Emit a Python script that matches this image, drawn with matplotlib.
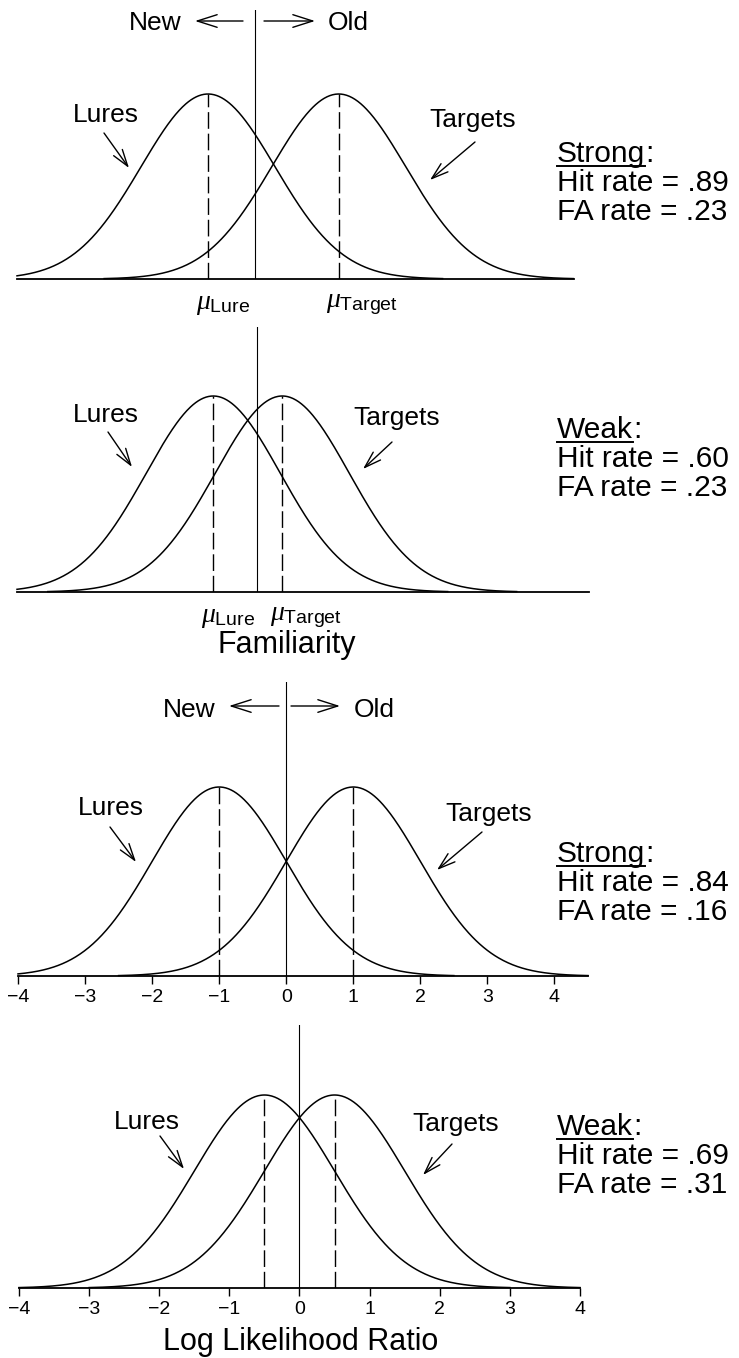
import numpy as np
import matplotlib.pyplot as plt
from matplotlib.lines import Line2D
from matplotlib.patches import FancyArrowPatch

plt.rcParams['font.family'] = ['Liberation Sans', 'DejaVu Sans']
plt.rcParams['mathtext.fontset'] = 'custom'
plt.rcParams['mathtext.rm'] = 'Liberation Sans'
plt.rcParams['mathtext.it'] = 'Liberation Serif:italic'

W, H = 739, 1358

# ---------------- data ----------------
condition = ['Strong', 'Weak', 'Strong', 'Weak']
hit_rate = ['.89', '.60', '.84', '.69']
fa_rate = ['.23', '.23', '.16', '.31']
lure_mean = [0.0, 0.0, -1.0, -0.5]
target_mean = [1.95, 1.03, 1.0, 0.5]
criterion = [0.70, 0.66, 0.0, 0.0]
sd = 1.0
llr_ticks = [-4, -3, -2, -1, 0, 1, 2, 3, 4]
x_limits = [(-2.85, 5.46), (-2.93, 5.61), (-4.0, 4.5), (-4.0, 4.0)]

# ---------------- layout (pixels, from top-left) ----------------
ax_left = [17, 17, 18, 19]
ax_right = [574, 589, 588, 580]
ax_base = [279, 592, 976, 1288]
ax_top = [10, 327, 682, 1025]
ax_peak = [94, 396, 787, 1095]

lures_txt = [(106, 115), (106, 415), (111, 808), (147, 1122)]
lures_arr = [((104, 133), (129, 168)), ((108, 432), (132, 467)),
             ((110, 827), (136, 862)), ((160, 1136), (184, 1169))]
targets_txt = [(473, 120), (397, 418), (489, 814), (456, 1124)]
targets_arr = [((475, 142), (430, 180)), ((392, 442), (363, 469)),
               ((482, 832), (437, 870)), ((452, 1144), (423, 1175))]
rate_y = [152, 428, 852, 1125]
rate_x = 557
line_gap = 29


def pdf(x, mu):
    return np.exp(-0.5 * ((x - mu) / sd) ** 2) / (sd * np.sqrt(2 * np.pi))


def fxy(x, y):
    return x / W, 1 - y / H


fig = plt.figure(figsize=(W / 100, H / 100), dpi=100)
renderer = fig.canvas.get_renderer()

arrow_kw = dict(arrowstyle='->,head_length=1.0,head_width=0.32',
                color='black', lw=1.0, shrinkA=0, shrinkB=0, mutation_scale=12)

for i in range(4):
    ax = fig.add_axes([ax_left[i] / W, 1 - ax_base[i] / H,
                       (ax_right[i] - ax_left[i]) / W,
                       (ax_base[i] - ax_top[i]) / H])
    peak = pdf(0, 0)
    ytop = peak * (ax_base[i] - ax_top[i]) / (ax_base[i] - ax_peak[i])
    ax.set_xlim(*x_limits[i])
    ax.set_ylim(0, ytop)
    for s in ['top', 'left', 'right']:
        ax.spines[s].set_visible(False)
    ax.spines['bottom'].set_linewidth(1.3)
    ax.patch.set_visible(False)

    for mu in (lure_mean[i], target_mean[i]):
        x = np.linspace(max(x_limits[i][0], mu - 3.5),
                        min(x_limits[i][1], mu + 3.5), 500)
        ax.plot(x, pdf(x, mu), color='black', lw=1.1, clip_on=False)
        ax.plot([mu, mu], [0, pdf(mu, mu)], color='black', lw=1.0,
                dashes=(12, 3.5))
    ax.axvline(criterion[i], 0, 1, color='black', lw=0.8)

    if i < 2:
        ax.set_xticks([])
        ax.set_yticks([])
        for mu, lab in ((lure_mean[i], r'$\mu_{\mathrm{Lure}}$'),
                        (target_mean[i], r'$\mu_{\mathrm{Target}}$')):
            ax.annotate(lab, xy=(mu, 0), xytext=(-9, -18),
                        textcoords='offset points', ha='left', va='center',
                        fontsize=20)
    else:
        ax.set_xticks(llr_ticks)
        ax.set_yticks([])
        ax.tick_params(axis='x', direction='out', length=6, width=1.0,
                       labelsize=14, pad=3)

    # Lures / Targets labels with arrows
    fig.text(*fxy(*lures_txt[i]), 'Lures', fontsize=19, ha='center', va='center')
    fig.text(*fxy(*targets_txt[i]), 'Targets', fontsize=19, ha='center', va='center')
    for (p0, p1) in (lures_arr[i], targets_arr[i]):
        fig.add_artist(FancyArrowPatch(fxy(*p0), fxy(*p1),
                                       transform=fig.transFigure, **arrow_kw))

    # condition + rates
    by = rate_y[i] + 10
    t = fig.text(*fxy(rate_x, by), condition[i], fontsize=21.5, ha='left', va='baseline')
    bb = t.get_window_extent(renderer=renderer)
    fig.text(bb.x1 / W, 1 - by / H, ':', fontsize=21.5, ha='left', va='baseline')
    fig.add_artist(Line2D([bb.x0 / W, bb.x1 / W], [1 - (by + 4) / H] * 2,
                          transform=fig.transFigure, color='black', lw=1.4))
    fig.text(*fxy(rate_x, by + line_gap), 'Hit rate = ' + hit_rate[i],
             fontsize=21.5, ha='left', va='baseline')
    fig.text(*fxy(rate_x, by + 2 * line_gap), 'FA rate = ' + fa_rate[i],
             fontsize=21.5, ha='left', va='baseline')

# New / Old decision arrows (strong panels)
new_old = [((155, 23), (348, 23), 21, (243, 195), (264, 315)),
           ((189, 710), (374, 710), 706, (279, 229), (291, 340))]
ny_kw = dict(arrowstyle='->,head_length=1.1,head_width=0.35',
             color='black', lw=1.0, shrinkA=0, shrinkB=0, mutation_scale=13)
for new_xy, old_xy, ay, left_ar, right_ar in new_old:
    fig.text(*fxy(*new_xy), 'New', fontsize=19, ha='center', va='center')
    fig.text(*fxy(*old_xy), 'Old', fontsize=19, ha='center', va='center')
    for a0, a1 in (left_ar, right_ar):
        fig.add_artist(FancyArrowPatch(fxy(a0, ay), fxy(a1, ay),
                                       transform=fig.transFigure, **ny_kw))

fig.text(*fxy(287, 645), 'Familiarity', fontsize=22, ha='center', va='center')
fig.text(*fxy(301, 1342), 'Log Likelihood Ratio', fontsize=22, ha='center', va='center')

fig.savefig('out.png', dpi=100)
